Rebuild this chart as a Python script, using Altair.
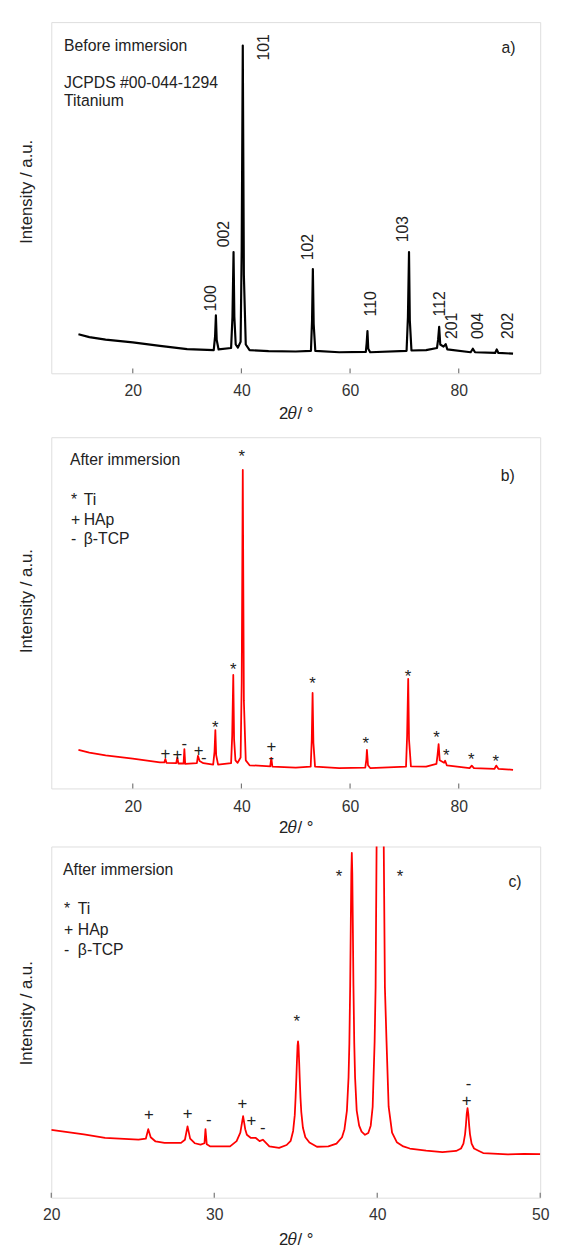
import altair as alt
import pandas as pd

FONT = "Liberation Sans"
TXT = "#222222"
FRAME = "#777777"

# ---------------- panel a : before immersion (black) ----------------
a_theta = [10, 12, 15, 20, 25, 30, 34.9, 35.15, 35.3, 35.45, 35.8, 38.1, 38.35, 38.55, 38.7,
           38.95, 39.35, 39.85, 40.05, 40.25, 40.45, 40.8, 41.5, 45, 50, 52.8, 53.0, 53.15,
           53.3, 53.6, 58, 62.9, 63.05, 63.2, 63.35, 63.7, 70.4, 70.65, 70.85, 71.0, 71.3, 74,
           76.0, 76.2, 76.4, 76.6, 77.2, 77.6, 77.9, 82.2, 82.6, 83.0, 86.7, 87.0, 87.3, 90]
a_int = [11.1, 10.3, 9.6, 8.8, 7.8, 6.9, 6.6, 10.5, 16.5, 9.5, 6.8, 7.2, 16, 34.5, 16,
         8.2, 7.3, 9, 35, 93.3, 28, 8.2, 6.6, 6.3, 6.2, 6.4, 15, 29.7,
         14, 6.4, 6.0, 6.1, 8.5, 12.0, 7.0, 6.0, 6.4, 16, 34.5, 15, 6.5, 6.6,
         7.2, 9.5, 13.2, 8.2, 7.6, 8.3, 6.8, 6.0, 7.0, 6.0, 5.8, 6.8, 5.8, 5.6]
a_lab_text = ["100", "002", "101", "102", "110", "103", "112", "201", "004", "202"]
a_lab_x = [34.4, 36.8, 44.2, 52.2, 63.9, 69.7, 76.5, 78.7, 83.6, 89.0]
a_lab_y = [17.6, 35.9, 89.1, 32.2, 16.2, 37.3, 16.2, 9.8, 9.8, 9.8]

# ---------------- panel b : after immersion (red, full range) ----------------
b_theta = [10, 12, 15, 20, 25, 25.8, 26.0, 26.2, 28.0, 28.2, 28.4, 29.35, 29.5, 29.65, 31.8,
           32.0, 32.3, 33.0, 34.8, 35.05, 35.2, 35.35, 35.7, 38.1, 38.3, 38.5, 38.65, 38.9,
           39.3, 39.85, 40.05, 40.25, 40.45, 40.8, 41.5, 45.3, 45.5, 45.7, 50, 52.75, 52.95,
           53.1, 53.25, 53.55, 58, 62.8, 63.0, 63.1, 63.3, 63.7, 70.3, 70.5, 70.7, 70.85, 71.2,
           74, 75.9, 76.1, 76.3, 76.5, 77.3, 77.5, 77.8, 82.0, 82.4, 82.8, 86.6, 86.9, 87.3, 90]
b_int = [11.0, 10.2, 9.4, 8.5, 7.4, 7.4, 8.4, 7.3, 7.2, 8.8, 7.1, 7.1, 11.2, 7.0, 7.2,
         9.3, 7.8, 7.2, 6.8, 10.5, 16.6, 9.5, 6.8, 7.2, 15, 32.3, 14, 8.0,
         7.3, 8.8, 30, 90.7, 25, 8.0, 6.6, 6.3, 8.7, 6.2, 5.9, 6.2, 14,
         27.2, 13, 6.2, 5.8, 5.9, 8.3, 11.0, 6.6, 5.8, 6.2, 15, 31.2, 14, 6.3,
         6.2, 7.0, 9.5, 12.6, 8.0, 7.3, 7.9, 6.6, 5.8, 6.5, 5.8, 5.6, 6.5, 5.6, 5.3]
b_mark_sym = ["*"] * 10 + ["+"] * 4 + ["-"] * 3
b_mark_x = [40.07, 38.5, 35.2, 53.1, 62.9, 70.65, 75.9, 77.7, 82.3, 86.8,
            26.0, 28.2, 32.1, 45.5,
            29.5, 33.05, 45.5]
b_mark_y = [95.5, 35.1, 18.5, 30.9, 14.0, 33.1, 15.7, 10.4, 9.3, 8.7,
            10.1, 9.6, 11.0, 12.0,
            12.4, 8.4, 8.6]

# ---------------- panel c : after immersion, 20-50 deg zoom ----------------
c_theta = [20.0, 21.0, 22.0, 23.3, 25.35, 25.8, 25.95, 26.1, 26.4, 26.95, 27.96, 28.2, 28.36,
           28.52, 28.8, 29.16, 29.4, 29.46, 29.54, 29.76, 30.97, 31.37, 31.6, 31.77, 31.9,
           32.0, 32.25, 32.55, 32.78, 32.98, 33.38, 33.98,
           34.44, 34.69, 34.84, 34.94, 34.99, 35.04, 35.07, 35.11, 35.14, 35.17, 35.21, 35.24,
           35.29, 35.34, 35.44, 35.59, 35.84, 36.3, 37.0,
           37.5, 37.84, 37.99, 38.14, 38.24, 38.29, 38.34, 38.38, 38.41, 38.44, 38.47, 38.50,
           38.54, 38.59, 38.64, 38.74, 38.89, 39.04, 39.25, 39.45,
           39.60, 39.72, 39.84, 39.90, 39.96, 40.05, 40.18, 40.31, 40.40, 40.47, 40.57, 40.70,
           40.91, 41.2, 41.6, 42.0, 43.0, 44.0,
           44.84, 45.14, 45.29, 45.39, 45.44, 45.49, 45.54, 45.59, 45.64, 45.69, 45.79, 45.94,
           46.24, 46.5, 48.0, 49.0, 50.0]
c_int = [19.3, 18.7, 18.0, 17.0, 16.5, 16.8, 19.5, 17.2, 16.0, 15.6, 15.6, 16.5, 20.3,
         16.8, 15.5, 15.1, 15.5, 19.5, 15.2, 14.6, 14.6, 16.1, 18.5, 23.2, 19.5,
         17.9, 17.0, 17.0, 16.1, 16.5, 14.6, 14.2,
         15.0, 16.2, 19.0, 23.5, 28.5, 34.4, 38.5, 43.2, 44.5, 43.2, 38.5, 34.4,
         28.5, 24.4, 19.9, 17.2, 15.7, 14.5, 14.6,
         15.4, 17.2, 19.5, 24.8, 34.3, 44, 60.4, 79, 92.3, 98.2, 92.3, 79,
         60.4, 44, 34.3, 24.8, 20.5, 18.8, 17.9, 18.4,
         20.5, 25.9, 44.5, 60, 100, 180, 290, 180, 100, 60, 44.5, 25.9,
         18.5, 15.8, 14.6, 14.0, 13.4, 13.0,
         13.3, 14.0, 15.4, 18.1, 20.6, 23.8, 25.5, 23.8, 20.6, 18.1, 15.4, 14.0,
         13.3, 12.7, 12.3, 12.5, 12.4]
c_mark_sym = ["*"] * 3 + ["+"] * 5 + ["-"] * 3
c_mark_x = [37.65, 41.39, 35.06,
            25.99, 28.36, 31.73, 32.27, 45.49,
            29.66, 32.98, 45.6]
c_mark_y = [92.6, 92.7, 51.3,
            23.7, 24.0, 26.8, 21.9, 27.6,
            21.9, 19.6, 32.1]

legend_sym = ["*", "+", "-"]
legend_name = ["Ti", "HAp", "β-TCP"]

ticks_ab = [20, 40, 60, 80]
ticks_c = [20, 30, 40, 50]

W = 497
H = 357
dummy = pd.DataFrame({"d": [0]})


def fixed_text(txt, x, y, align="left", size=16):
    return alt.Chart(dummy).mark_text(
        text=txt, align=align, baseline="middle", font=FONT, fontSize=size, color=TXT
    ).encode(x=alt.value(x), y=alt.value(y))


def panel(theta, inten, color, sw, domain, ticks, title_y, xtitle_y, lab_pad, extra):
    xs = alt.Scale(domain=domain, nice=False, zero=False)
    ys = alt.Scale(domain=[0, 100], nice=False, zero=False)
    xax = alt.Axis(
        values=ticks, title="2𝜃/ °", ticks=False, tickSize=0, domain=False, grid=False,
        labelPadding=lab_pad, labelFlush=False, labelOverlap=False, labelFontSize=16,
        labelFont=FONT, labelColor="#333333", titleFont=FONT, titleFontSize=17,
        titleFontWeight="normal", titleColor=TXT, titleBaseline="alphabetic",
        titleY=xtitle_y)
    yax = alt.Axis(
        title="Intensity / a.u.", labels=False, ticks=False, domain=False, grid=False,
        titleFont=FONT, titleFontSize=17, titleFontWeight="normal", titleColor=TXT,
        titleBaseline="alphabetic", titleAngle=270, titleX=-20, titleY=title_y)
    X = lambda f: alt.X(f, scale=xs, axis=xax, title="2𝜃/ °")
    Y = lambda f: alt.Y(f, scale=ys, axis=yax, title="Intensity / a.u.")
    df = pd.DataFrame({"theta": theta, "I": inten})
    line = alt.Chart(df).mark_line(color=color, strokeWidth=sw, clip=True,
                                   strokeJoin="round").encode(x=X("theta:Q"), y=Y("I:Q"))
    tk = alt.Chart(pd.DataFrame({"theta": ticks})).mark_rule(color=FRAME, strokeWidth=1.2).encode(
        x=X("theta:Q"), y=alt.value(H), y2=alt.value(H - 5))
    layers = [line, tk] + extra(X, Y)
    return alt.layer(*layers).properties(width=W, height=H)


DYS = {"*": 9.6, "+": 5.8, "-": 4.5}


def markers(sym, mx, my, X, Y):
    df = pd.DataFrame({"s": sym, "theta": mx, "I": my})
    out = []
    for s, dy in DYS.items():
        out.append(alt.Chart(df).transform_filter(alt.datum.s == s).mark_text(
            font=FONT, fontSize=17, color=TXT, baseline="alphabetic", dy=dy
        ).encode(x=X("theta:Q"), y=Y("I:Q"), text="s:N"))
    return out


def extra_a(X, Y):
    df = pd.DataFrame({"t": a_lab_text, "theta": a_lab_x, "I": a_lab_y})
    lab = alt.Chart(df).mark_text(font=FONT, fontSize=16, color=TXT, angle=270, align="left",
                                  baseline="middle").encode(
        x=X("theta:Q"), y=Y("I:Q"), text="t:N")
    return [lab,
            fixed_text("Before immersion", 13, 24),
            fixed_text("JCPDS #00-044-1294", 13, 62),
            fixed_text("Titanium", 13, 80),
            fixed_text("a)", 472, 26, align="right")]


def extra_b(X, Y):
    out = markers(b_mark_sym, b_mark_x, b_mark_y, X, Y)
    out += [fixed_text("After immersion", 19, 23), fixed_text("b)", 471, 39, align="right")]
    for i, (s, n) in enumerate(zip(legend_sym, legend_name)):
        out.append(fixed_text(s, 20, 64 + 20 * i))
        out.append(fixed_text(n, 33, 64 + 20 * i))
    return out


def extra_c(X, Y):
    out = markers(c_mark_sym, c_mark_x, c_mark_y, X, Y)
    out += [fixed_text("After immersion", 12, 24), fixed_text("c)", 478, 36, align="right")]
    for i, (s, n) in enumerate(zip(legend_sym, legend_name)):
        out.append(fixed_text(s, 13, 64 + 20.5 * i))
        out.append(fixed_text(n, 27, 64 + 20.5 * i))
    return out


pa = panel(a_theta, a_int, "#000000", 2.2, [5, 95], ticks_ab, 172, 46, 10, extra_a)
pb = panel(b_theta, b_int, "#ff0000", 1.8, [5, 95], ticks_ab, 166, 45, 10, extra_b)
pc = panel(c_theta, c_int, "#ff0000", 1.8, [20, 50], ticks_c, 169, 48, 9, extra_c)

top = alt.vconcat(pa, pb, spacing=14)
chart = alt.vconcat(top, pc, spacing=9).properties(
    padding={"left": 9, "top": 3, "right": 3, "bottom": 0}
).configure_view(stroke=FRAME, strokeWidth=1.3).configure(background="white")

chart.save("out.html", embed_options={"renderer": "svg", "actions": False})
